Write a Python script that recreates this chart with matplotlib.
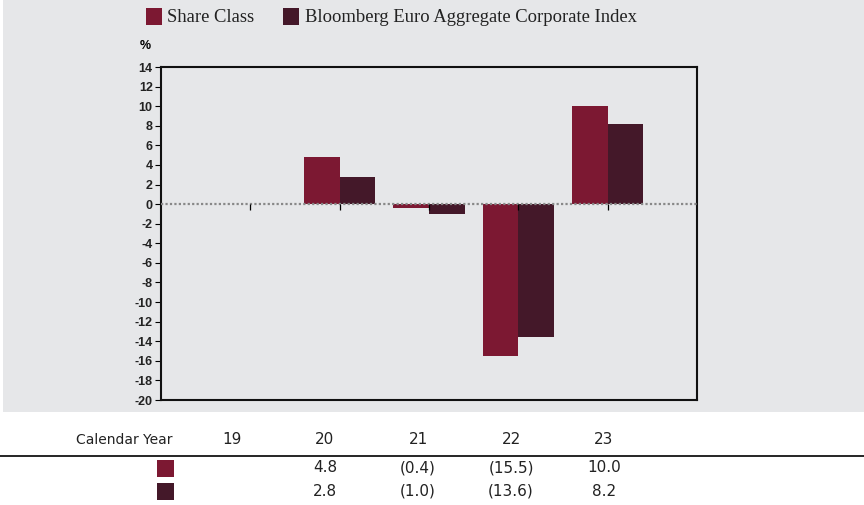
"""Calendar year returns: share class vs Bloomberg Euro Aggregate Corporate Index"""

import numpy as np
from matplotlib import pyplot as plt
from matplotlib.patches import Rectangle

years = ['19', '20', '21', '22', '23']
share_class = [np.nan, 4.8, -0.4, -15.5, 10.0]
index_values = [np.nan, 2.8, -1.0, -13.6, 8.2]
share_labels = ['', '4.8', '(0.4)', '(15.5)', '10.0']
index_labels = ['', '2.8', '(1.0)', '(13.6)', '8.2']

SHARE_COLOR = '#7c1832'
INDEX_COLOR = '#441829'
PANEL = '#e6e7e9'

plt.rcParams['axes.unicode_minus'] = False

fig = plt.figure(figsize=(8.64, 5.05), dpi=100)

# grey panel behind the chart
fig.patches.append(Rectangle((0.004, 0.184), 0.996, 0.816, transform=fig.transFigure,
                             facecolor=PANEL, edgecolor='none', zorder=-10))

ax = fig.add_axes([0.1863, 0.2079, 0.6204, 0.6594])
ax.set_facecolor(PANEL)

x = np.arange(len(years))
width = 0.4
ax.bar(x - width / 2, share_class, width, color=SHARE_COLOR, zorder=2)
ax.bar(x + width / 2, index_values, width, color=INDEX_COLOR, zorder=2)

ax.axhline(0, color='#888888', linestyle=(0, (1, 1)), linewidth=1.6, zorder=3)
ax.vlines(x, -0.55, 0, color='black', linewidth=0.9, zorder=3)

ax.set_xlim(-1, 5)
ax.set_ylim(-20, 14)
ax.set_xticks([])
ax.set_yticks(np.arange(-20, 15, 2))
ax.tick_params(axis='y', direction='out', length=4, width=0.8, pad=2,
               labelsize=9)
for lbl in ax.get_yticklabels():
    lbl.set_family('Liberation Sans')
    lbl.set_fontweight('bold')
    lbl.set_color('#222222')
for side in ax.spines.values():
    side.set_linewidth(1.5)
    side.set_color('#111111')

fig.text(145 / 864, 1 - 46 / 505, '%', family='Liberation Sans', fontweight='bold',
         fontsize=9, ha='center', va='center')

# legend
fig.patches.append(Rectangle((146 / 864, 1 - 25 / 505), 16 / 864, 17 / 505,
                             transform=fig.transFigure, facecolor=SHARE_COLOR))
fig.text(167 / 864, 1 - 17 / 505, 'Share Class', family='Liberation Serif',
         fontsize=13.4, va='center', color='#222222')
fig.patches.append(Rectangle((283 / 864, 1 - 25 / 505), 16 / 864, 17 / 505,
                             transform=fig.transFigure, facecolor=INDEX_COLOR))
fig.text(305 / 864, 1 - 17 / 505, 'Bloomberg Euro Aggregate Corporate Index',
         family='Liberation Serif', fontsize=13.4, va='center', color='#222222')

# table below the chart
col_x = [232, 325, 418, 511, 604]
tfont = dict(family='DejaVu Sans', fontsize=11, color='#222222')
fig.text(173 / 864, 1 - 440 / 505, 'Calendar Year', ha='right', va='center',
         family='DejaVu Sans', fontsize=10, color='#222222')
for cx, yr, s, i in zip(col_x, years, share_labels, index_labels):
    fig.text(cx / 864, 1 - 440 / 505, yr, ha='center', va='center', **tfont)
    fig.text(cx / 864, 1 - 468 / 505, s, ha='center', va='center', **tfont)
    fig.text(cx / 864, 1 - 491 / 505, i, ha='center', va='center', **tfont)
fig.add_artist(plt.Line2D([0, 1], [1 - 456 / 505] * 2, color='black', linewidth=1.2,
                          transform=fig.transFigure))
fig.patches.append(Rectangle((157 / 864, 1 - 477 / 505), 17 / 864, 17 / 505,
                             transform=fig.transFigure, facecolor=SHARE_COLOR))
fig.patches.append(Rectangle((157 / 864, 1 - 500 / 505), 17 / 864, 17 / 505,
                             transform=fig.transFigure, facecolor=INDEX_COLOR))

fig.savefig('out.png', dpi=100)
